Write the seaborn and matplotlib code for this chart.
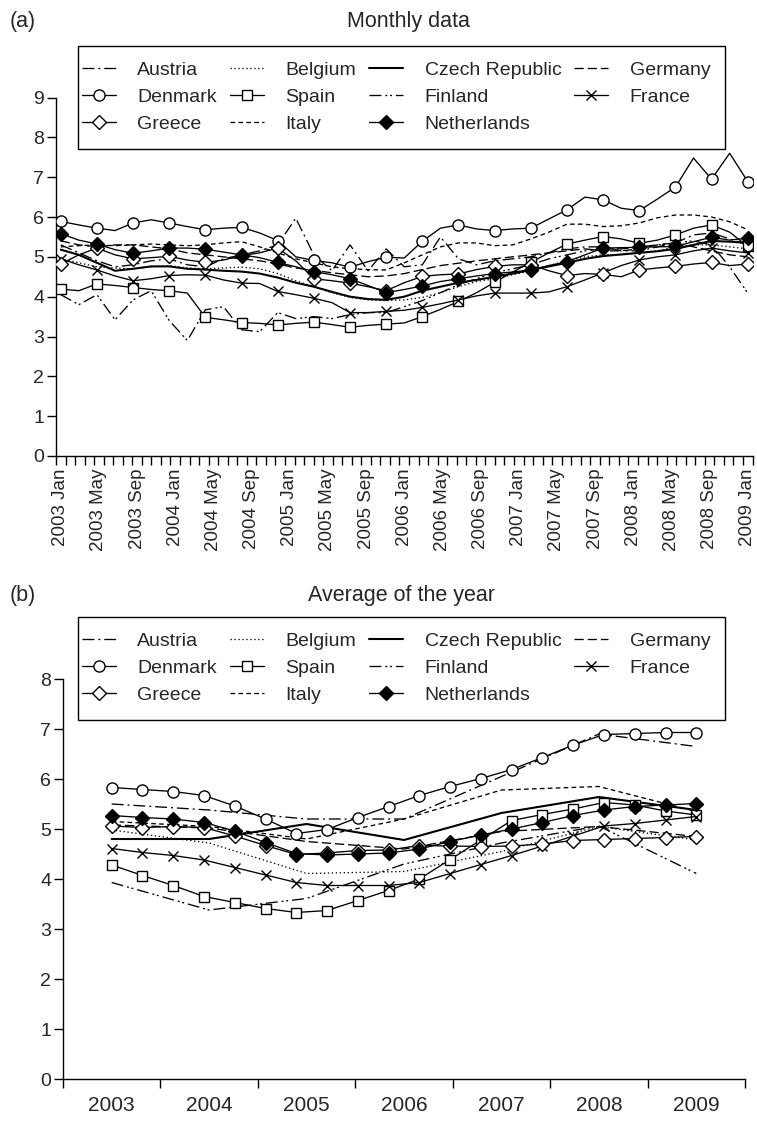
import numpy as np
import pandas as pd
import matplotlib
matplotlib.use("Agg")
import matplotlib.pyplot as plt
from matplotlib.patches import Rectangle
import seaborn as sns

sns.set_theme(style="white")
plt.rcParams["font.family"] = ["Liberation Sans", "DejaVu Sans"]

# ---------------------------------------------------------------- data
countries = ["Austria", "Belgium", "Czech Republic", "Germany", "Denmark", "Spain",
             "Finland", "France", "Greece", "Italy", "Netherlands"]

# (a) monthly rates, read on an even grid of 39 positions from 2003 Jan (0) to 2009 Jan (72)
monthly_pos = np.linspace(0, 72, 39)
month_labels = ["2003 Jan", "2003 May", "2003 Sep", "2004 Jan", "2004 May", "2004 Sep",
                "2005 Jan", "2005 May", "2005 Sep", "2006 Jan", "2006 May", "2006 Sep",
                "2007 Jan", "2007 May", "2007 Sep", "2008 Jan", "2008 May", "2008 Sep",
                "2009 Jan"]

m_austria = [5.30, 5.10, 4.90, 4.75, 4.80, 4.90, 4.95, 4.80, 4.75, 4.95, 5.05, 5.15, 5.30,
             5.97, 5.05, 4.65, 5.30, 4.65, 5.20, 4.75, 4.80, 5.50, 4.95, 4.80, 4.90, 4.95,
             5.00, 5.10, 5.20, 5.25, 5.25, 5.15, 5.15, 5.25, 5.35, 5.55, 5.60, 5.45, 5.30]
m_belgium = [4.95, 4.85, 4.75, 4.72, 4.70, 4.75, 4.78, 4.72, 4.70, 4.72, 4.74, 4.70, 4.58,
             4.40, 4.25, 4.10, 3.98, 3.92, 3.90, 3.92, 3.98, 4.10, 4.25, 4.38, 4.45, 4.55,
             4.65, 4.78, 4.90, 5.00, 5.05, 5.05, 5.10, 5.15, 5.25, 5.30, 5.30, 5.25, 5.20]
m_czech = [5.18, 5.05, 4.85, 4.65, 4.70, 4.76, 4.76, 4.70, 4.68, 4.65, 4.63, 4.58, 4.48,
           4.35, 4.25, 4.12, 4.00, 3.94, 3.92, 4.00, 4.15, 4.25, 4.35, 4.42, 4.50, 4.58,
           4.67, 4.76, 4.85, 4.95, 5.02, 5.06, 5.10, 5.14, 5.20, 5.30, 5.40, 5.38, 5.35]
m_germany = [5.40, 5.30, 5.25, 5.30, 5.30, 5.25, 5.20, 5.10, 5.05, 5.00, 4.95, 4.90, 4.82,
             4.72, 4.66, 4.60, 4.55, 4.50, 4.52, 4.58, 4.68, 4.78, 4.84, 4.90, 4.95, 5.00,
             5.05, 5.10, 5.15, 5.20, 5.15, 5.15, 5.20, 5.30, 5.35, 5.25, 5.15, 5.05, 5.00]
m_denmark = [5.89, 5.80, 5.72, 5.66, 5.85, 5.93, 5.85, 5.76, 5.68, 5.72, 5.74, 5.60, 5.41,
             5.00, 4.91, 4.85, 4.74, 4.88, 4.99, 4.97, 5.39, 5.72, 5.80, 5.70, 5.66, 5.70,
             5.72, 5.95, 6.18, 6.50, 6.43, 6.22, 6.16, 6.45, 6.75, 7.48, 6.95, 7.60, 6.89]
m_spain = [4.19, 4.15, 4.32, 4.28, 4.23, 4.18, 4.15, 4.09, 3.48, 3.42, 3.35, 3.33, 3.29,
           3.33, 3.36, 3.30, 3.23, 3.28, 3.31, 3.34, 3.50, 3.68, 3.88, 4.10, 4.36, 4.62,
           4.86, 5.10, 5.32, 5.42, 5.51, 5.45, 5.34, 5.42, 5.55, 5.72, 5.80, 5.62, 5.26]
m_finland = [4.05, 3.80, 4.05, 3.42, 3.92, 4.15, 3.40, 2.90, 3.67, 3.75, 3.17, 3.12, 3.60,
             3.45, 3.50, 3.45, 3.55, 3.60, 3.60, 3.75, 3.90, 4.10, 4.30, 4.45, 4.60, 4.70,
             4.80, 4.95, 5.05, 5.15, 5.20, 5.20, 5.25, 5.30, 5.35, 5.40, 5.30, 4.75, 4.09]
m_france = [4.95, 4.80, 4.67, 4.52, 4.40, 4.45, 4.53, 4.55, 4.54, 4.42, 4.34, 4.33, 4.13,
            4.05, 3.96, 3.85, 3.60, 3.60, 3.63, 3.66, 3.73, 3.82, 3.92, 4.02, 4.09, 4.09,
            4.09, 4.12, 4.25, 4.42, 4.60, 4.78, 4.92, 5.00, 5.05, 5.15, 5.22, 5.15, 5.10]
m_greece = [4.82, 5.05, 5.22, 5.05, 4.95, 4.98, 5.01, 4.92, 4.86, 4.92, 5.03, 5.10, 5.22,
            4.90, 4.45, 4.40, 4.34, 4.25, 4.15, 4.35, 4.51, 4.55, 4.57, 4.68, 4.76, 4.80,
            4.80, 4.65, 4.53, 4.58, 4.56, 4.50, 4.67, 4.72, 4.76, 4.82, 4.86, 4.78, 4.82]
m_italy = [5.25, 5.28, 5.30, 5.28, 5.30, 5.32, 5.30, 5.28, 5.30, 5.35, 5.38, 5.25, 5.10,
           4.95, 4.85, 4.75, 4.70, 4.68, 4.67, 4.85, 5.05, 5.25, 5.35, 5.35, 5.28, 5.30,
           5.45, 5.62, 5.82, 5.82, 5.76, 5.78, 5.85, 5.98, 6.05, 6.05, 6.00, 5.88, 5.68]
m_netherlands = [5.58, 5.42, 5.32, 5.18, 5.09, 5.15, 5.22, 5.22, 5.19, 5.12, 5.05, 4.98, 4.86,
                 4.75, 4.63, 4.55, 4.45, 4.28, 4.10, 4.18, 4.27, 4.38, 4.45, 4.52, 4.58, 4.62,
                 4.67, 4.78, 4.88, 5.05, 5.22, 5.23, 5.24, 5.25, 5.26, 5.38, 5.49, 5.42, 5.47]

# (b) yearly averages
years = ["2003", "2004", "2005", "2006", "2007", "2008", "2009"]
year_pos = np.arange(len(years))
# series carrying markers were read at 20 evenly spaced points across the years
yearly_marker_pos = np.linspace(0, 6, 20)

y_austria = [5.50, 5.38, 5.20, 5.20, 6.05, 6.90, 6.65]
y_belgium = [4.98, 4.72, 4.11, 4.15, 4.55, 5.05, 4.78]
y_czech = [4.80, 4.80, 5.10, 4.78, 5.32, 5.64, 5.38]
y_germany = [5.08, 5.02, 4.75, 4.60, 4.95, 5.05, 4.85]
y_finland = [3.93, 3.38, 3.61, 4.30, 4.72, 5.06, 4.11]
y_italy = [5.15, 5.05, 4.80, 5.20, 5.78, 5.85, 5.35]
y_denmark = [5.83, 5.79, 5.75, 5.67, 5.46, 5.20, 4.91, 4.99, 5.23, 5.45,
             5.67, 5.85, 6.01, 6.19, 6.43, 6.68, 6.89, 6.91, 6.93, 6.93]
y_spain = [4.28, 4.07, 3.87, 3.65, 3.53, 3.41, 3.33, 3.37, 3.57, 3.77,
           4.00, 4.39, 4.78, 5.17, 5.29, 5.40, 5.53, 5.48, 5.36, 5.28]
y_france = [4.61, 4.53, 4.47, 4.38, 4.23, 4.08, 3.93, 3.87, 3.87, 3.87,
            3.93, 4.11, 4.29, 4.47, 4.66, 4.86, 5.06, 5.11, 5.18, 5.25]
y_greece = [5.06, 5.03, 5.05, 5.03, 4.86, 4.67, 4.49, 4.52, 4.57, 4.58,
            4.67, 4.66, 4.65, 4.66, 4.70, 4.77, 4.79, 4.81, 4.83, 4.85]
y_netherlands = [5.27, 5.23, 5.20, 5.13, 4.96, 4.73, 4.51, 4.48, 4.50, 4.52,
                 4.60, 4.75, 4.88, 5.00, 5.13, 5.27, 5.38, 5.45, 5.48, 5.51]

monthly = {"Austria": m_austria, "Belgium": m_belgium, "Czech Republic": m_czech,
           "Germany": m_germany, "Denmark": m_denmark, "Spain": m_spain,
           "Finland": m_finland, "France": m_france, "Greece": m_greece,
           "Italy": m_italy, "Netherlands": m_netherlands}
yearly = {"Austria": (year_pos, y_austria), "Belgium": (year_pos, y_belgium),
          "Czech Republic": (year_pos, y_czech), "Germany": (year_pos, y_germany),
          "Denmark": (yearly_marker_pos, y_denmark), "Spain": (yearly_marker_pos, y_spain),
          "Finland": (year_pos, y_finland), "France": (yearly_marker_pos, y_france),
          "Greece": (yearly_marker_pos, y_greece), "Italy": (year_pos, y_italy),
          "Netherlands": (yearly_marker_pos, y_netherlands)}

df_a = pd.concat([pd.DataFrame({"country": c, "x": monthly_pos, "rate": monthly[c]})
                  for c in countries], ignore_index=True)
df_b = pd.concat([pd.DataFrame({"country": c, "x": yearly[c][0], "rate": yearly[c][1]})
                  for c in countries], ignore_index=True)

# ---------------------------------------------------------------- styles
LW = 0.95
styles = {
    "Austria": dict(linestyle=(0, (9, 3, 1.5, 3))),
    "Belgium": dict(linestyle=(0, (1.0, 2.0))),
    "Czech Republic": dict(linestyle="-", linewidth=1.5),
    "Germany": dict(linestyle=(0, (7, 3))),
    "Denmark": dict(linestyle="-", marker="o", markersize=8.0, markerfacecolor="white"),
    "Spain": dict(linestyle="-", marker="s", markersize=7.5, markerfacecolor="white"),
    "Finland": dict(linestyle=(0, (9, 3, 1.5, 2, 1.5, 3))),
    "France": dict(linestyle="-", marker="x", markersize=6.5),
    "Greece": dict(linestyle="-", marker="D", markersize=6.8, markerfacecolor="white"),
    "Italy": dict(linestyle=(0, (3.5, 2.5))),
    "Netherlands": dict(linestyle="-", marker="D", markersize=6.8, markerfacecolor="black"),
}
# legend is filled column by column: this order gives the row layout
legend_order = ["Austria", "Denmark", "Greece", "Belgium", "Spain", "Italy",
                "Czech Republic", "Finland", "Netherlands", "Germany", "France"]

FS_LEG = 14
FS_TICK = 14
FS_MONTH = 13.5
FS_YEAR = 15
FS_TITLE = 15.5
W, H = 757, 1125
fig = plt.figure(figsize=(W / 100, H / 100), dpi=100)
ax_a = fig.add_axes([56 / W, 1 - 456 / H, 696.5 / W, 358.5 / H])
ax_b = fig.add_axes([63 / W, 1 - 1079 / H, 682 / W, 400 / H])


def draw(ax, df, markevery):
    for c in countries:
        kw = dict(linewidth=LW, markeredgewidth=1.0, markeredgecolor="black")
        kw.update(styles[c])
        sub = df[df["country"] == c]
        sns.lineplot(data=sub, x="x", y="rate", ax=ax, color="black", label=c,
                     errorbar=None, legend=False, sort=False,
                     markevery=markevery if "marker" in styles[c] else None,
                     zorder=3 if "marker" in styles[c] else 2, **kw)


draw(ax_a, df_a, 2)
draw(ax_b, df_b, 1)


def finish(ax, ymax, xlim, major_pos, labels, rotation, pad, fs_x):
    ax.set_xlim(*xlim)
    ax.set_ylim(0, ymax)
    ax.set_xlabel("")
    ax.set_ylabel("")
    for s in ("top", "right"):
        ax.spines[s].set_visible(False)
    for s in ("left", "bottom"):
        ax.spines[s].set_color("black")
        ax.spines[s].set_linewidth(1.0)
    ax.set_yticks(range(0, ymax + 1))
    ax.set_yticklabels([str(v) for v in range(0, ymax + 1)], fontsize=FS_TICK)
    ax.tick_params(axis="y", direction="out", length=6.5, width=1.0, color="black",
                   pad=2, left=True)
    ax.set_xticks(major_pos)
    ax.set_xticklabels(labels, rotation=rotation, fontsize=fs_x)
    ax.set_xticks(np.arange(xlim[0], xlim[1] + 0.01, 1), minor=True)
    ax.tick_params(axis="x", which="major", length=0, pad=pad)
    ax.tick_params(axis="x", which="minor", direction="out", length=6.5, width=1.0,
                   color="black", bottom=True)
    handles, names = ax.get_legend_handles_labels()
    lookup = dict(zip(names, handles))
    return [lookup[n] for n in legend_order]


h_a = finish(ax_a, 9, (-0.5, 72.5), np.arange(0, 73, 4), month_labels, 90, 9, FS_MONTH)
h_b = finish(ax_b, 8, (-0.5, 6.5), year_pos, years, 0, 12, FS_YEAR)

# legend boxes: (top, bottom) in pixels
for handles, (top, bottom) in ((h_a, (46, 149)), (h_b, (617, 720))):
    fig.add_artist(Rectangle((78 / W, 1 - bottom / H), 647 / W, (bottom - top) / H,
                             transform=fig.transFigure, facecolor="white",
                             edgecolor="black", linewidth=1.0, zorder=4))
    fig.legend(handles, legend_order, ncol=4, loc="upper left",
               bbox_to_anchor=(82 / W, 1 - (top + 15) / H),
               fontsize=FS_LEG, frameon=False, borderpad=0, labelspacing=0.49,
               handlelength=1.75, handletextpad=1.1, columnspacing=0.67,
               borderaxespad=0, numpoints=1).set_zorder(5)

fig.text(10 / W, 1 - 21 / H, "(a)", fontsize=FS_TITLE, va="center", ha="left")
fig.text(408 / W, 1 - 21 / H, "Monthly data", fontsize=FS_TITLE, va="center", ha="center")
fig.text(10 / W, 1 - 596 / H, "(b)", fontsize=FS_TITLE, va="center", ha="left")
fig.text(401 / W, 1 - 596 / H, "Average of the year", fontsize=FS_TITLE, va="center",
         ha="center")

fig.savefig("out.png", dpi=100, facecolor="white")
